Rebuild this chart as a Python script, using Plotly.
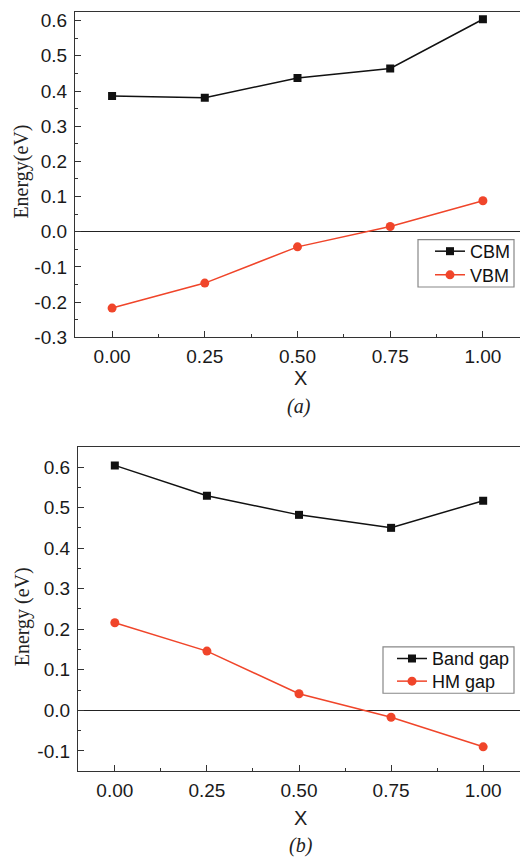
import plotly.graph_objects as go

x_vals = [0.0, 0.25, 0.5, 0.75, 1.0]
cbm = [0.386, 0.381, 0.437, 0.464, 0.604]
vbm = [-0.217, -0.146, -0.043, 0.015, 0.088]
band_gap = [0.604, 0.529, 0.482, 0.450, 0.517]
hm_gap = [0.216, 0.146, 0.041, -0.017, -0.090]
x_ticks = [0.0, 0.25, 0.5, 0.75, 1.0]
x_ticktext = ["0.00", "0.25", "0.50", "0.75", "1.00"]
y1_ticks = [-0.3, -0.2, -0.1, 0.0, 0.1, 0.2, 0.3, 0.4, 0.5, 0.6]
y1_ticktext = ["-0.3", "-0.2", "-0.1", "0.0", "0.1", "0.2", "0.3", "0.4", "0.5", "0.6"]
y2_ticks = [-0.1, 0.0, 0.1, 0.2, 0.3, 0.4, 0.5, 0.6]
y2_ticktext = ["-0.1", "0.0", "0.1", "0.2", "0.3", "0.4", "0.5", "0.6"]

BLACK = "#111111"
RED = "#F0452A"
W, H = 520, 865

fig = go.Figure()
fig.add_trace(go.Scatter(x=x_vals, y=cbm, name="CBM", mode="lines+markers",
                         line=dict(color=BLACK, width=1.5),
                         marker=dict(symbol="square", size=8, color=BLACK),
                         xaxis="x", yaxis="y", legend="legend"))
fig.add_trace(go.Scatter(x=x_vals, y=vbm, name="VBM", mode="lines+markers",
                         line=dict(color=RED, width=1.5),
                         marker=dict(symbol="circle", size=9, color=RED),
                         xaxis="x", yaxis="y", legend="legend2"))
fig.add_trace(go.Scatter(x=x_vals, y=band_gap, name="Band gap", mode="lines+markers",
                         line=dict(color=BLACK, width=1.5),
                         marker=dict(symbol="square", size=8, color=BLACK),
                         xaxis="x2", yaxis="y2", legend="legend3"))
fig.add_trace(go.Scatter(x=x_vals, y=hm_gap, name="HM gap", mode="lines+markers",
                         line=dict(color=RED, width=1.5),
                         marker=dict(symbol="circle", size=9, color=RED),
                         xaxis="x2", yaxis="y2", legend="legend4"))

sans = "Liberation Sans"
serif = "Liberation Serif"
tickfont = dict(family=sans, size=19, color="#1a1a1a")
common_x = dict(range=[-0.1, 1.1], tickmode="array", tickvals=x_ticks, ticktext=x_ticktext,
                ticks="inside", ticklen=6, tickwidth=1, tickcolor="#333",
                minor=dict(ticks="inside", ticklen=3, tickcolor="#333", tick0=0.125, dtick=0.25),
                showline=True, linecolor="#333", linewidth=1.2, mirror=True,
                showgrid=False, zeroline=False, tickfont=tickfont, ticklabelstandoff=2)
common_y = dict(tickmode="array",
                ticks="inside", ticklen=6, tickwidth=1, tickcolor="#333",
                minor=dict(ticks="inside", ticklen=3, tickcolor="#333", tickmode="linear",
                           tick0=0.05, dtick=0.1),
                showline=True, linecolor="#333", linewidth=1.2, mirror=False,
                showgrid=False, zeroline=True, zerolinecolor="#222", zerolinewidth=1.2,
                tickfont=tickfont, ticklabelstandoff=3)

legfont = dict(family=sans, size=18, color="#111")


def leg(xpx, ypx):
    return dict(x=xpx / W, xanchor="left", y=1 - ypx / H, yanchor="middle",
                borderwidth=0, bgcolor="rgba(0,0,0,0)", font=legfont)


fig.update_layout(
    width=W, height=H, margin=dict(l=0, r=0, t=0, b=0),
    paper_bgcolor="white", plot_bgcolor="white",
    xaxis=dict(domain=[75 / W, 1.0], anchor="y", **common_x),
    yaxis=dict(domain=[1 - 341 / H, 1 - 11 / H], anchor="x", range=[-0.3, 0.625],
               tickvals=y1_ticks, ticktext=y1_ticktext, **common_y),
    xaxis2=dict(domain=[78 / W, 1.0], anchor="y2", **common_x),
    yaxis2=dict(domain=[1 - 781 / H, 1 - 452 / H], anchor="x2", range=[-0.15, 0.65],
                tickvals=y2_ticks, ticktext=y2_ticktext, **common_y),
    legend=leg(430, 254),
    legend2=leg(430, 278),
    legend3=leg(392, 667),
    legend4=leg(392, 690),
    showlegend=True,
)

# legend frames
for (x0, y0, x1, y1) in [(418, 242, 514, 290), (383, 655, 514, 702)]:
    fig.add_shape(type="rect", xref="paper", yref="paper",
                  x0=x0 / W, x1=x1 / W, y0=1 - y1 / H, y1=1 - y0 / H,
                  line=dict(color="#888", width=1.2), fillcolor="white", layer="above")

anns = [
    dict(text="Energy(eV)", x=22 / W, y=1 - 173 / H, textangle=-90,
         font=dict(family=serif, size=20, color="#222")),
    dict(text="Energy (eV)", x=22 / W, y=1 - 625 / H, textangle=-90,
         font=dict(family=serif, size=20, color="#222")),
    dict(text="X", x=300 / W, y=1 - 382 / H, font=dict(family=sans, size=20, color="#222")),
    dict(text="<i>(a)</i>", x=299 / W, y=1 - 411 / H, font=dict(family=serif, size=20, color="#222")),
    dict(text="X", x=300 / W, y=1 - 829 / H, font=dict(family=sans, size=20, color="#222")),
    dict(text="<i>(b)</i>", x=301 / W, y=1 - 856 / H, font=dict(family=serif, size=20, color="#222")),
]
for a in anns:
    fig.add_annotation(xref="paper", yref="paper", showarrow=False,
                       xanchor="center", yanchor="middle", **a)

fig.write_html("out.html", config={"displayModeBar": False},
               post_script="document.body.style.margin='0';document.body.style.overflow='hidden';")
